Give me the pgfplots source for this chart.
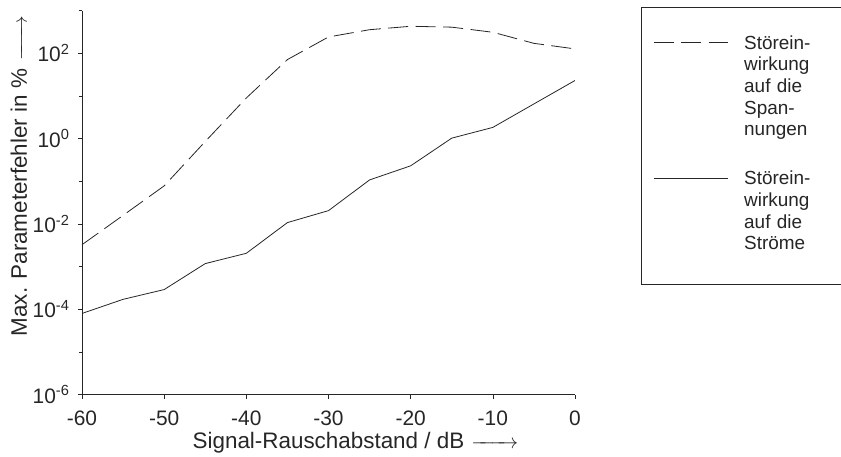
\documentclass[border=0pt]{standalone}
\usepackage{fontspec}
\setmainfont{Liberation Sans}
\usepackage{pgfplots}
\pgfplotsset{compat=1.18}
\definecolor{ink}{gray}{0.15}
\begin{document}
\begin{tikzpicture}
\useasboundingbox (-82bp,-62.5bp) rectangle (759bp,394.5bp);
\begin{axis}[
  scale only axis,
  width=493bp, height=384bp,
  xmin=-60, xmax=0,
  ymode=log, ymin=1e-6, ymax=1e3,
  axis lines*=left,
  axis line style={ink, line width=0.8bp},
  xtick={-60,-50,-40,-30,-20,-10,0},
  xticklabels={-60,-50,-40,-30,-20,-10,0},
  ytick={1e-6,1e-4,1e-2,1e0,1e2},
  yticklabels={10\textsuperscript{-6},10\textsuperscript{-4},10\textsuperscript{-2},10\textsuperscript{0},10\textsuperscript{2}},
  minor ytick={1e-5,1e-3,1e-1,1e1,1e3},
  tick align=outside,
  major tick length=4bp, minor tick length=3bp,
  tick style={ink, line width=0.6bp},
  ticklabel style={font=\fontsize{21}{24}\selectfont, text=ink},
  xticklabel style={yshift=-9bp},
  yticklabel style={xshift=-5bp},
  xlabel={Signal-Rauschabstand / dB\rlap{\hspace{7bp}\smash{\makebox[47bp]{\rightarrowfill}}}},
  xlabel style={at={(axis description cs:0.5,-0.140)}, anchor=base, font=\fontsize{22.5}{26}\selectfont, text=ink},
  ylabel={Max. Parameterfehler in \%\rlap{\hspace{8bp}\smash{\makebox[45bp]{\rightarrowfill}}}},
  ylabel style={at={(axis description cs:-0.1116,0.5)}, anchor=base, font=\fontsize{22.5}{26}\selectfont, text=ink},
  legend cell align=left,
  legend style={at={(axis description cs:1.1339,1.0091)}, anchor=north west,
    draw=ink, line width=0.8bp, inner xsep=12bp, inner ysep=26.6bp,
    row sep=5bp, column sep=16bp, font=\fontsize{19}{21.7}\selectfont,
    text=ink, cells={anchor=base west}, nodes={inner sep=0pt, text width=86bp}},
  legend image code/.code={\draw[#1] (0bp,6.8bp) -- (74bp,6.8bp);},
]
\addplot[ink, line width=0.8bp, dash pattern=on 20bp off 7.5bp] coordinates {
  (-60,3.24e-3) (-55,1.58e-2) (-50,7.76e-2) (-45,0.851) (-40,8.91) (-35,70.8)
  (-30,240) (-25,355) (-20,427) (-15,407) (-10,309) (-5,170) (0,126)
};
\addlegendentry{\strut Störein-}
\addlegendimage{empty legend}\addlegendentry{\strut wirkung}
\addlegendimage{empty legend}\addlegendentry{\strut auf die}
\addlegendimage{empty legend}\addlegendentry{\strut Span-}
\addlegendimage{empty legend}\addlegendentry{\strut nungen}
\addlegendimage{empty legend}\addlegendentry{\rule{0pt}{21bp}}
\addplot[ink, line width=0.8bp] coordinates {
  (-60,7.94e-5) (-55,1.70e-4) (-50,2.88e-4) (-45,1.17e-3) (-40,2.04e-3) (-35,1.07e-2)
  (-30,2.04e-2) (-25,0.107) (-20,0.229) (-15,1.02) (-10,1.82) (-5,6.46) (0,22.9)
};
\addlegendentry{\strut Störein-}
\addlegendimage{empty legend}\addlegendentry{\strut wirkung}
\addlegendimage{empty legend}\addlegendentry{\strut auf die}
\addlegendimage{empty legend}\addlegendentry{\strut Ströme}
\addlegendimage{empty legend}\addlegendentry{\rule{0pt}{0.1bp}}
\end{axis}
\end{tikzpicture}
\end{document}
